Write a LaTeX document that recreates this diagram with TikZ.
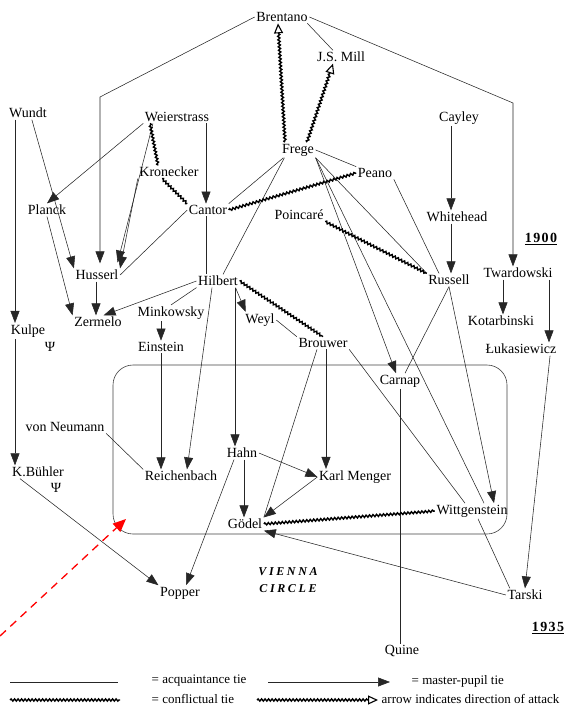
\documentclass[tikz,border=0pt]{standalone}
\usepackage{fontspec}
\setmainfont{Liberation Serif}
\newfontfamily\spacedfont[LetterSpace=22]{Liberation Serif}
\newfontfamily\yearfont[LetterSpace=10]{Liberation Serif}
\usetikzlibrary{arrows.meta,decorations.pathmorphing}
\begin{document}
\begin{tikzpicture}[x=1pt,y=-1pt,
  every node/.style={font=\fontsize{14}{16}\selectfont, inner sep=1.5pt},
  ln/.style={line width=0.55pt, black!85},
  mp/.style={ln, -{Triangle[length=12pt,width=9pt]}},
  conf/.style={line width=1.4pt, black, decorate, decoration={snake, amplitude=1.1pt, segment length=3.5pt}},
  atk/.style={line width=1.4pt, black, decorate, decoration={snake, amplitude=1.1pt, segment length=3.5pt, post length=9pt}, -{Triangle[open,length=10pt,width=9pt,line width=1.1pt]}},
  legtext/.style={anchor=west, font=\fontsize{13}{15}\selectfont},
  yeartext/.style={font=\fontsize{14}{16}\selectfont\yearfont\bfseries},
  vctext/.style={font=\fontsize{12}{14}\selectfont\spacedfont\bfseries\itshape}
]
\useasboundingbox (0,0) rectangle (573,706);

% Vienna Circle box
\draw[rounded corners=20pt, line width=0.6pt, black!75] (113,365) rectangle (507,534);

% nodes
\node (brentano) at (282,17) {Brentano};
\node (mill) at (341,57) {J.S. Mill};
\node (wundt) at (28,113) {Wundt};
\node (weier) at (177,117) {Weierstrass};
\node (cayley) at (459,118) {Cayley};
\node (frege) at (298,150) {Frege};
\node (kron) at (169,172) {Kronecker};
\node (peano) at (375,173) {Peano};
\node (planck) at (47,210) {Planck};
\node (cantor) at (208,210) {Cantor};
\node (poincare) at (299,215) {Poincaré};
\node (white) at (457,217) {Whitehead};
\node[yeartext] (y1900) at (541,239) {\underline{1900}};
\node (husserl) at (97,275) {Husserl};
\node (hilbert) at (218,281) {Hilbert};
\node (russell) at (449,280) {Russell};
\node (tward) at (518,273) {Twardowski};
\node (zermelo) at (98,322) {Zermelo};
\node (mink) at (171,313) {Minkowsky};
\node (weyl) at (260,320) {Weyl};
\node (brouwer) at (323,343) {Brouwer};
\node (kotar) at (501,321) {Kotarbinski};
\node (kulpe) at (28,331) {Kulpe};
\node (psi1) at (50,347) {Ψ};
\node (einstein) at (161,347) {Einstein};
\node (luk) at (521,349) {Łukasiewicz};
\node (carnap) at (400,381) {Carnap};
\node (vn) at (65,427) {von Neumann};
\node (hahn) at (242,453) {Hahn};
\node (kb) at (38,472) {K.Bühler};
\node (psi2) at (56,488) {Ψ};
\node (reich) at (181,476) {Reichenbach};
\node (menger) at (355,477) {Karl Menger};
\node (goedel) at (245,524) {Gödel};
\node (witt) at (472,511) {Wittgenstein};
\node[vctext] (vienna) at (288,572) {VIENNA};
\node[vctext] (circle) at (288,589) {CIRCLE};
\node (popper) at (180,593) {Popper};
\node (tarski) at (525,595) {Tarski};
\node[yeartext] (y1935) at (548,628) {\underline{1935}};
\node (quine) at (402,651) {Quine};

% column helpers
\coordinate (colK) at (15,0);
\coordinate (colZ) at (96,0);
\coordinate (colE) at (161,0);
\coordinate (colC) at (206,0);
\coordinate (colH) at (235,0);
\coordinate (colG) at (244,0);
\coordinate (colB) at (326,0);
\coordinate (colQ) at (400,0);
\coordinate (colW) at (451,0);
\coordinate (colT1) at (503,0);
\coordinate (colT2) at (549,0);
\coordinate (b1) at (100,97);
\coordinate (t1) at (513,103);

% Brentano
\draw[mp, shorten >=5pt] (brentano.west) -- (b1) -- (b1 |- husserl.north);
\draw[mp] (brentano.east) -- (t1) -- (t1 |- tward.north);
\draw[ln] ([xshift=-2pt]brentano.south east) -- ([xshift=-8pt]mill.north);
\draw[atk] ([xshift=-13pt]frege.north) -- ([xshift=-4pt]brentano.south);
\draw[atk] ([xshift=9pt]frege.north) -- ([xshift=-8pt]mill.south);

% Wundt, Kulpe
\draw[mp] (wundt.south -| colK) -- (kulpe.north -| colK);
\draw[mp] (kulpe.south -| colK) -- (kb.north -| colK);
\draw[mp] (wundt.-60) -- (husserl.north west);

% Weierstrass, Kronecker, Cantor
\draw[mp] (weier.south west) -- (planck.north);
\draw[mp, shorten >=6pt] (weier.-165) -- ([xshift=-4pt]husserl.north east);
\draw[mp] (kron.south west) -- (husserl.north east);
\draw[ln] (cantor.west) -- (husserl.east);
\draw[conf] ([xshift=-27pt]weier.south) -- ([xshift=-11pt]kron.north);
\draw[conf] ([xshift=-7pt]kron.south) -- (cantor.north west);
\draw[mp] (weier.south -| colC) -- (cantor.north -| colC);
\draw[ln] (cantor.south -| colC) -- (hilbert.north -| colC);

% Planck, Husserl, Zermelo
\draw[mp] (planck.south) -- (zermelo.north west);
\draw[mp] (husserl.south -| colZ) -- (zermelo.north -| colZ);

% Hilbert
\draw[mp] (hilbert.west) -- (zermelo.50);
\draw[ln] (hilbert.south west) -- (mink.north);
\draw[mp] (mink.south -| colE) -- (einstein.north -| colE);
\draw[mp] (einstein.south -| colE) -- (reich.north -| colE);
\draw[mp] ([xshift=-6pt]hilbert.south) -- ([xshift=6pt]reich.north);
\draw[mp] (hilbert.south -| colH) -- (hahn.north -| colH);
\draw[mp] ([xshift=-4pt]hilbert.south east) -- ([xshift=2pt]weyl.north west);
\draw[conf] (hilbert.east) -- (brouwer.north);
\draw[ln] ([xshift=5pt]hilbert.north) -- ([xshift=4pt]frege.south west);

% Frege
\draw[ln] (cantor.north east) -- ([xshift=3pt]frege.south west);
\draw[conf] (cantor.east) -- (peano.west);
\draw[ln] (frege.east) -- (peano.north west);
\draw[ln] (peano.south east) -- ([xshift=-10pt]russell.north);
\draw[ln] (frege.south east) -- (russell.north west);
\draw[mp] (frege.south east) -- ([xshift=-4pt]carnap.north);
\draw[ln] (frege.south east) -- ([xshift=12pt]witt.north);
\draw[conf] (poincare.south east) -- (russell.north west);

% Cayley, Whitehead, Russell
\draw[mp] (cayley.south -| colW) -- (white.north -| colW);
\draw[mp] (white.south -| colW) -- (russell.north -| colW);
\draw[ln] (russell.south) -- ([xshift=5pt]carnap.north);
\draw[mp] (russell.south) -- ([xshift=22pt]witt.north);

% Twardowski
\draw[mp] (tward.south -| colT1) -- (kotar.north -| colT1);
\draw[mp] (tward.south -| colT2) -- (luk.north -| colT2);
\draw[mp] ([xshift=-8pt]luk.south east) -- (tarski.north);

% Weyl, Brouwer
\draw[ln] (weyl.east) -- (brouwer.north west);
\draw[mp] (brouwer.south -| colB) -- (menger.north -| colB);
\draw[ln] ([xshift=-6pt]brouwer.south) -- (goedel.north east);
\draw[ln] (brouwer.south east) -- ([xshift=-7pt]witt.north);

% Vienna circle members
\draw[ln] (carnap.south -| colQ) -- (quine.north -| colQ);
\draw[ln] (vn.south east) -- (reich.north west);
\draw[mp] (hahn.east) -- (menger.west);
\draw[mp] (hahn.south -| colG) -- (goedel.north -| colG);
\draw[mp] (menger.west) -- (goedel.north east);
\draw[mp] ([xshift=-8pt]hahn.south) -- ([xshift=6pt]popper.north);
\draw[mp] ([xshift=-18pt]kb.south) -- (popper.north west);
\draw[conf] (goedel.east) -- (witt.west);
\draw[ln] ([xshift=6pt]witt.south) -- ([xshift=4pt]tarski.north west);
\draw[mp] (tarski.west) -- (goedel.south east);

% red dashed pointer
\coordinate (r0) at (0,636);
\coordinate (r1) at (126,519);
\draw[red, line width=1.3pt, dash pattern=on 8pt off 6pt, -{Triangle[length=13pt,width=11pt]}] (r0) -- (r1);

% legend
\coordinate (l1a) at (10,682);
\coordinate (l1b) at (118,682);
\coordinate (l2a) at (268,682);
\coordinate (l2b) at (390,682);
\coordinate (l3a) at (10,700);
\coordinate (l3b) at (120,700);
\coordinate (l4a) at (257,700);
\coordinate (l4b) at (378,700);
\draw[ln] (l1a) -- (l1b);
\draw[mp] (l2a) -- (l2b);
\draw[conf] (l3a) -- (l3b);
\draw[atk] (l4a) -- (l4b);
\node[legtext] (lt1) at (150,681) {= acquaintance tie};
\node[legtext] (lt2) at (410,681) {= master-pupil tie};
\node[legtext] (lt3) at (150,699) {= conflictual tie};
\node[legtext] (lt4) at (380,699) {arrow indicates direction of attack};
\end{tikzpicture}
\end{document}
